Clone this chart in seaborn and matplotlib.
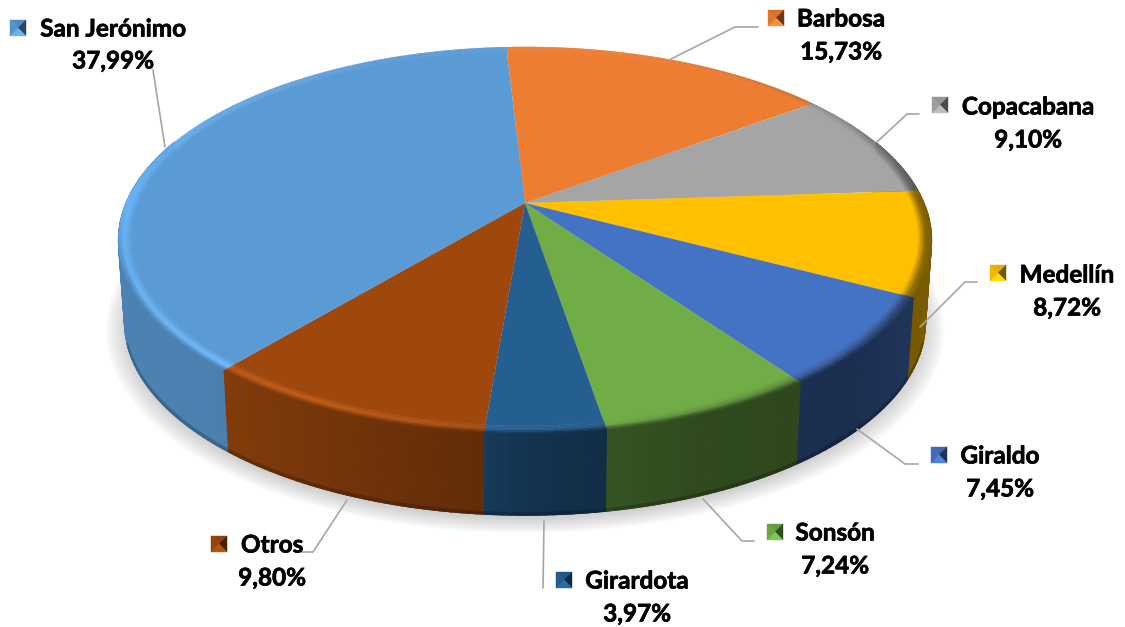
import matplotlib
matplotlib.use("Agg")
import matplotlib.patheffects as pe
import matplotlib.pyplot as plt
import numpy as np
import seaborn as sns
from matplotlib.collections import PolyCollection

# clockwise from the top of the pie
LABELS = ["Barbosa", "Copacabana", "Medellín", "Giraldo", "Sonsón", "Girardota", "Otros", "San Jerónimo"]
SHARES = [15.73, 9.10, 8.72, 7.45, 7.24, 3.97, 9.80, 37.99]
SHARE_TEXT = ["15,73%", "9,10%", "8,72%", "7,45%", "7,24%", "3,97%", "9,80%", "37,99%"]
COLORS = ["#ED7D31", "#A5A5A5", "#FFC000", "#4472C4", "#70AD47", "#255E91", "#9E480E", "#5B9BD5"]

# layout in pixels: centre of the label text, key corner, leader line
TEXT_POS = {
    "Barbosa": (841, 19, 52), "Copacabana": (1028, 107, 140), "Medellín": (1067, 275, 308),
    "Giraldo": (1000, 456, 489), "Sonsón": (835, 533, 566), "Girardota": (637, 581, 614),
    "Otros": (272, 545, 578), "San Jerónimo": (113, 29, 61),
}
KEY_POS = {
    "Barbosa": (768, 10), "Copacabana": (932, 97), "Medellín": (990, 265), "Giraldo": (931, 447),
    "Sonsón": (767, 524), "Girardota": (556, 572), "Otros": (211, 536), "San Jerónimo": (10, 20),
}
LEADERS = {
    "Barbosa": [(669, 60), (735, 27), (758, 27)],
    "Copacabana": [(877, 142), (907, 114), (919, 114)],
    "Medellín": [(920, 327), (965, 282), (977, 282)],
    "Giraldo": [(857, 429), (905, 464), (918, 464)],
    "Sonsón": [(703, 499), (742, 541), (754, 541)],
    "Girardota": [(544, 521), (543, 588)],
    "Otros": [(347, 500), (313, 552), (302, 552)],
    "San Jerónimo": [(153, 70), (165, 147)],
}

CX, CY = 525, 203
RX, RY, PERSP = 399, 186, 0.1917
DEPTH, BOTTOM_SCALE = 82, 0.985
START_DEG = -3.2
RIM_START = 0.968


def project(angle_deg, radius=1.0, lower=False):
    a = np.radians(angle_deg)
    u, v = radius * np.sin(a), radius * np.cos(a)
    w = 1 + PERSP * v
    x, y = RX * u / w, -RY * v / w
    if lower:
        return CX + x * BOTTOM_SCALE, CY + y + DEPTH
    return CX + x, CY + y


def shade(rgb, factor):
    return np.clip(np.array(rgb) * factor, 0, 1)


def wall_factor(x):
    return np.interp(x, [118, 230, 300, 480, 550, 700, 850, 930], [0.84, 0.82, 0.76, 0.62, 0.52, 0.43, 0.40, 0.48])


def rim_factor(x):
    return np.interp(x, [118, 300, 525, 700, 850, 932], [1.16, 1.26, 1.05, 0.85, 0.75, 0.55])


sns.set_theme(style="white")
palette = sns.color_palette(COLORS)

fig = plt.figure(figsize=(11.25, 6.27), dpi=100)
ax = fig.add_axes([0, 0, 1, 1])
ax.set_xlim(0, 1125)
ax.set_ylim(627, 0)
ax.set_axis_off()

edges = START_DEG + np.concatenate([[0], np.cumsum(SHARES)]) * 3.6

# soft shadow under the pie
full = np.linspace(0, 360, 361)
for scale in np.linspace(1.045, 0.99, 12):
    xs, ys = project(full, scale, lower=True)
    ax.fill(xs, ys + 5, color="#7f7f7f", alpha=0.035, lw=0, zorder=1)

# side wall facets, with a thin dark foot only along the visible lower edge
wall_polys, foot_polys = [], []
for rgb, a0, a1 in zip(palette, edges[:-1], edges[1:]):
    steps = np.linspace(a0, a1, max(int(a1 - a0), 2) + 1)
    for s0, s1 in zip(steps[:-1], steps[1:]):
        x0, y0 = project(s0)
        x1, y1 = project(s1)
        x2, y2 = project(s1, lower=True)
        x3, y3 = project(s0, lower=True)
        cos_mid = np.cos(np.radians((s0 + s1) / 2))
        if cos_mid > 0.35:
            continue  # hidden behind the top face
        factor = wall_factor((x0 + x1) / 2)
        wall_polys.append(((y0 + y1) / 2, [(x0, y0), (x1, y1), (x2, y2), (x3, y3)], shade(rgb, factor)))
        if cos_mid < -0.3:
            foot_polys.append(((y0 + y1) / 2, [(x3, y3 - 2.5), (x2, y2 - 2.5), (x2, y2), (x3, y3)], shade(rgb, factor * 0.78)))
for polys, z in [(wall_polys, 2), (foot_polys, 2.5)]:
    polys.sort(key=lambda item: item[0])
    cols = [item[2] for item in polys]
    ax.add_collection(PolyCollection([item[1] for item in polys], facecolors=cols, edgecolors=cols,
                                     linewidths=0.9, zorder=z))

# flat top
for rgb, a0, a1 in zip(palette, edges[:-1], edges[1:]):
    steps = np.linspace(a0, a1, int(a1 - a0) * 2 + 2)
    xs, ys = project(steps, RIM_START + 0.002)
    ax.fill(np.r_[CX, xs], np.r_[CY, ys], color=rgb, lw=0, zorder=3)

# bevelled rim: flat colour -> highlight -> wall colour, faded out towards the back
radii = np.linspace(RIM_START, 1.0, 7)
rim_polys, rim_colors = [], []
for rgb, a0, a1 in zip(palette, edges[:-1], edges[1:]):
    steps = np.linspace(a0, a1, max(int(a1 - a0), 2) + 1)
    for s0, s1 in zip(steps[:-1], steps[1:]):
        s_mid = (s0 + s1) / 2
        mid_x = project(s_mid)[0]
        cos_mid = np.cos(np.radians(s_mid))
        front = np.interp(cos_mid, [-1, 0.0, 0.5, 1], [1, 1, 0.35, 0])
        lit = 1 + (rim_factor(mid_x) - 1) * front
        wall = 1 + (wall_factor(mid_x) - 1) * front
        if mid_x < CX:
            wall = np.interp(cos_mid, [-0.4, 0.0], [wall, lit])  # left edge stays light
        for r0, r1 in zip(radii[:-1], radii[1:]):
            t = ((r0 + r1) / 2 - RIM_START) / (1 - RIM_START)
            factor = np.interp(t, [0, 0.55, 1], [1.0, lit, wall])
            c = shade(rgb, factor)
            rim_polys.append([project(s0, r0), project(s1, r0), project(s1, r1), project(s0, r1)])
            rim_colors.append(c)
ax.add_collection(PolyCollection(rim_polys, facecolors=rim_colors, edgecolors=rim_colors, linewidths=0.3, zorder=4))

# labels, keys and leader lines
heavy = [pe.withStroke(linewidth=0.5, foreground="black")]
for name, pct, rgb in zip(LABELS, SHARE_TEXT, palette):
    tx, y_name, y_pct = TEXT_POS[name]
    for y, text in [(y_name, name), (y_pct, pct)]:
        ax.text(tx, y, text, ha="center", va="center", fontsize=17.5, fontweight="bold",
                family="Lato", color="black", zorder=6, path_effects=heavy)

    kx, ky = KEY_POS[name]
    size = 16
    mid = (kx + size / 2, ky + size / 2)
    corners = [(kx, ky), (kx + size, ky), (kx + size, ky + size), (kx, ky + size)]
    for i, factor in enumerate([0.9, 0.45, 1.15, 0.95]):
        tri = [corners[i], corners[(i + 1) % 4], mid]
        col = shade(rgb, factor)
        ax.fill(*zip(*tri), facecolor=col, edgecolor=col, lw=0.3, zorder=6)

    line = np.array(LEADERS[name])
    ax.plot(line[:, 0], line[:, 1], color="#a6a6a6", lw=1.2, solid_joinstyle="miter", zorder=5)

fig.savefig("out.png", dpi=100)
